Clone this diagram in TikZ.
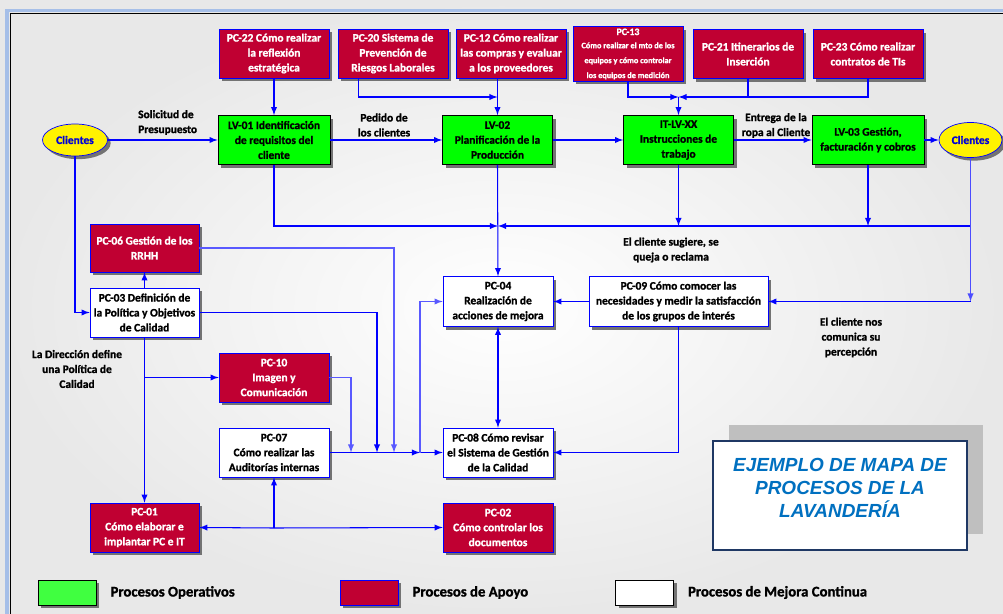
\documentclass[tikz,border=0pt]{standalone}
\usepackage{fontspec}
\setmainfont{Carlito}[BoldFont={Carlito Bold}, BoldFeatures={FakeBold=1.3}]
\newfontfamily\titlefont{Liberation Sans}
\usetikzlibrary{shapes,arrows,shadows,calc}
\definecolor{opgreen}{RGB}{0,255,0}
\definecolor{legreen}{RGB}{64,255,64}
\definecolor{supred}{RGB}{192,0,50}
\definecolor{titleblue}{RGB}{0,112,192}
\definecolor{framenavy}{RGB}{31,56,100}
\definecolor{paleblue}{RGB}{166,191,232}
\newcommand{\nodefont}{\fontsize{6.5}{8.5}\selectfont\bfseries}

\begin{document}
\begin{tikzpicture}[x=0.02cm, y=-0.02cm,
        shade/.style={drop shadow={shadow xshift=1.8pt, shadow yshift=-1.8pt, fill=black!55, opacity=1}},
        opbox/.style={rectangle, draw=black, fill=opgreen, align=center, font=\nodefont, minimum width=2.2cm, minimum height=0.98cm, inner sep=1pt, shade},
        supbox/.style={opbox, draw=blue, fill=supred, text=white},
        impbox/.style={opbox, draw=blue, fill=white},
        client/.style={ellipse, draw=blue, fill=yellow, text=blue!85!black, font=\nodefont, minimum width=1.3cm, minimum height=0.64cm, inner sep=0pt, shade},
        lbl/.style={font=\nodefont, align=center},
        legbox/.style={rectangle, draw=black, minimum width=1.16cm, minimum height=0.5cm, shade},
        legtext/.style={font=\fontsize{8.4}{10}\selectfont\bfseries, anchor=west},
        arrow/.style={->, >=latex, blue, line width=0.6pt},
        line/.style={blue, line width=0.6pt}
    ]
        \useasboundingbox (0,0) rectangle (1003,614);
        % Background and frame
        \shade[inner color=white, outer color=black!9] (0,0) rectangle (1003,614);
        \draw[paleblue, line width=2pt] (7,620) -- (7,10.5) -- (1010,10.5);
        \draw[black, line width=0.8pt] (10.5,620) -- (10.5,13.5) -- (1010,13.5);

        % Nodes
        \node[client] (cliL) at (75,140) {Clientes};
        \node[opbox, minimum width=2.24cm] (lv01) at (274,140) {LV-01 Identificación\\de requisitos del\\cliente};
        \node[opbox] (lv02) at (497.5,140) {LV-02\\Planificación de la\\Producción};
        \node[opbox] (itlv) at (678.5,140) {IT-LV-XX\\Instrucciones de\\trabajo};
        \node[opbox, minimum width=2.24cm] (lv03) at (868,140) {LV-03 Gestión,\\facturación y cobros};
        \node[client, minimum width=1.26cm, minimum height=0.7cm] (cliR) at (970.5,140) {Clientes};

        \node[supbox] (pc22) at (274,53.5) {PC-22 Cómo realizar\\la reflexión\\estratégica};
        \node[supbox] (pc20) at (393,53.5) {PC-20 Sistema de\\Prevención de\\Riesgos Laborales};
        \node[supbox] (pc12) at (511,53.5) {PC-12 Cómo realizar\\las compras y evaluar\\a los proveedores};
        \node[supbox] (pc13) at (628,54) {\fontsize{5.6}{7}\selectfont PC-13\\[-1pt]\fontsize{4.7}{6.5}\selectfont Cómo realizar el mto de los\\\fontsize{4.7}{6.5}\selectfont equipos y cómo controlar\\\fontsize{4.7}{6.5}\selectfont los equipos de medición};
        \node[supbox] (pc21) at (748,54) {PC-21 Itinerarios de\\Inserción};
        \node[supbox] (pc23) at (868,54) {PC-23 Cómo realizar\\contratos de TIs};

        \node[supbox, minimum width=2.18cm, minimum height=0.96cm] (pc06) at (144.5,248) {PC-06 Gestión de los\\RRHH};
        \node[impbox, minimum width=2.18cm] (pc03) at (144.5,312.5) {PC-03 Definición de\\la Política y Objetivos\\de Calidad};
        \node[supbox] (pc10) at (274,377.5) {PC-10\\Imagen y\\Comunicación};
        \node[impbox] (pc07) at (274,452.5) {PC-07\\Cómo realizar las\\Auditorías internas};
        \node[supbox, minimum width=2.18cm] (pc01) at (144.5,527.5) {PC-01\\Cómo elaborar e\\implantar PC e IT};
        \node[impbox, minimum height=1cm] (pc04) at (498,301.5) {PC-04\\Realización de\\acciones de mejora};
        \node[impbox, minimum width=3.58cm, minimum height=1cm] (pc09) at (678.5,301.5) {PC-09 Cómo comocer las\\necesidades y medir la satisfacción\\de los grupos de interés};
        \node[impbox] (pc08) at (498,452.5) {PC-08 Cómo revisar\\el Sistema de Gestión\\de la Calidad};
        \node[supbox] (pc02) at (498,527.5) {PC-02\\Cómo controlar los\\documentos};

        % Labels
        \node[lbl, anchor=west, align=left] (solicitud) at (132,122.5) {Solicitud de\\Presupuesto};
        \node[lbl] (pedido) at (384,125) {Pedido de\\los clientes};
        \node[lbl] (entrega) at (776,125.5) {Entrega de la\\ropa al Cliente};
        \node[lbl] (sugiere) at (671,250) {El cliente sugiere, se\\queja o reclama};
        \node[lbl] (percepcion) at (851,337.5) {El cliente nos\\comunica su\\percepción};
        \node[lbl] (direccion) at (77,369) {La Dirección define\\una Política de\\Calidad};

        % Title
        \node[draw=framenavy, line width=1.2pt, fill=white, minimum width=5.08cm, minimum height=2.18cm,
            drop shadow={shadow xshift=0.32cm, shadow yshift=0.32cm, fill=black!25, opacity=1}] (titlebox) at (840,495.5) {};
        \node[font=\titlefont\fontsize{10.8}{13}\selectfont\bfseries\itshape, text=titleblue, align=center] (title) at (840,488) {EJEMPLO DE MAPA DE\\PROCESOS DE LA\\LAVANDERÍA};

        % Legend
        \node[legbox, fill=legreen] (legop) at (67,592.5) {};
        \node[legtext] (legoptext) at ([xshift=0.16cm]legop.east) {Procesos Operativos};
        \node[legbox, fill=supred, draw=blue] (legsup) at (369,592.5) {};
        \node[legtext] (legsuptext) at ([xshift=0.16cm]legsup.east) {Procesos de Apoyo};
        \node[legbox, fill=white] (legimp) at (644.5,592.5) {};
        \node[legtext] (legimptext) at ([xshift=0.16cm]legimp.east) {Procesos de Mejora Continua};

        % Junctions
        \coordinate (j12) at (497.5,97);
        \coordinate (j13) at (678.5,97);
        \coordinate (j04) at (498,226);
        \coordinate (j08) at (420,452.5);
        \coordinate (d10) at (351,452.5);
        \coordinate (d03) at (377,452.5);
        \coordinate (d06) at (394,452.5);
        \coordinate (j01) at (274,528);

        % Arrows
        \draw[arrow] (cliL) -- (lv01);
        \draw[arrow] (lv01) -- (lv02);
        \draw[arrow] (lv02) -- (itlv);
        \draw[arrow] (itlv) -- (lv03);
        \draw[arrow] (lv03) -- (cliR);
        \draw[arrow] (pc22) -- (lv01);
        \draw[arrow] ([xshift=0.42cm]pc20.south west) |- (j12);
        \draw[arrow] (pc12.south -| lv02.north) -- (lv02.north);
        \draw[arrow] (pc13.south) |- (j13);
        \draw[arrow] (pc21.south) |- (j13);
        \draw[line] (pc23.south) |- (j13 -| pc21.south);
        \draw[arrow] (j13) -- (itlv.north);
        \draw[arrow] (lv01.south) |- (j04);
        \draw[arrow] (lv02.south) -- (pc04.north);
        \draw[arrow] (itlv.south) -- (itlv.south |- j04);
        \draw[arrow] (lv03.south) -- (lv03.south |- j04);
        \draw[arrow] (cliR.south) |- (j04);
        \draw[arrow, blue!70] (cliR.south) -- (cliR.south |- pc09.east);
        \draw[arrow] (cliR.south |- pc09.east) -- (pc09.east);
        \draw[arrow] (pc09) -- (pc04);
        \draw[arrow] (pc09.south) |- (pc08.east);
        \draw[arrow, <->] (pc04.south) -- (pc08.north);
        \draw[arrow] (cliL.south) |- (pc03.west);
        \draw[arrow] (pc03) -- (pc06);
        \draw[arrow] (pc03.south) -- (pc01.north);
        \draw[arrow] (pc03.south |- pc10.west) -- (pc10.west);
        \draw[arrow, blue!65] (pc10.east) -| (d10);
        \draw[arrow] (pc03.east) -| (d03);
        \draw[arrow, blue!65] (pc06.east) -| (d06);
        \draw[arrow] (pc07.east) -- (j08);
        \draw[arrow] (j08) -- (pc08.west);
        \draw[arrow, blue!65] (j08) |- (pc04.west);
        \draw[arrow] (j01) -- (pc07.south);
        \draw[arrow] (j01) -- (pc01.east);
        \draw[arrow] (j01) -- (pc02.west);

    \end{tikzpicture}
\end{document}
